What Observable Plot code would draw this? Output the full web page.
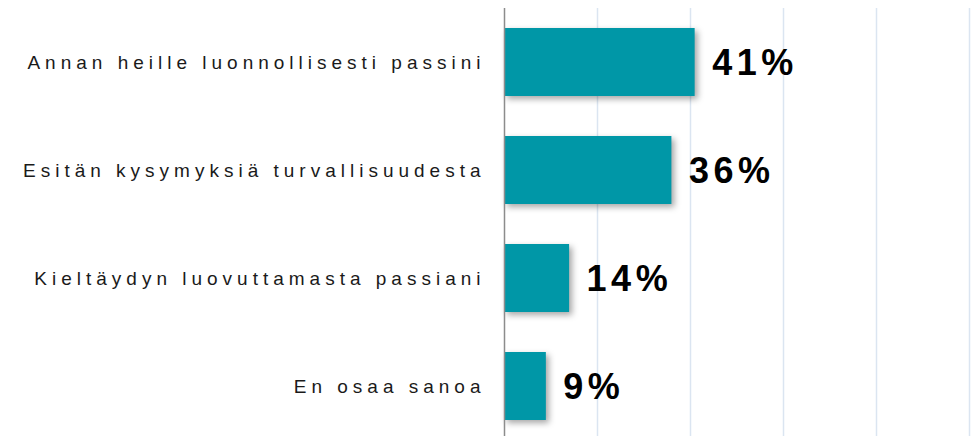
<!DOCTYPE html>
<html>
<head>
<meta charset="utf-8">
<script src="https://cdn.jsdelivr.net/npm/d3@7"></script>
<script src="https://cdn.jsdelivr.net/npm/@observablehq/plot@0.6"></script>
<style>
  html, body { margin: 0; padding: 0; background: #fff; }
  #chart svg { display: block; }
  #chart g[aria-label="y-axis tick label"] text { letter-spacing: 5px; }
  #chart g[aria-label="text"] text { letter-spacing: 4.5px; }
  #chart g[aria-label="bar"] { filter: drop-shadow(3px 3px 3px rgba(0,0,0,0.35)); }
</style>
</head>
<body>
<div id="chart"></div>
<script>
const categories = [
  "Annan heille luonnollisesti passini",
  "Esitän kysymyksiä turvallisuudesta",
  "Kieltäydyn luovuttamasta passiani",
  "En osaa sanoa"
];
const values = [41, 36, 14, 9];
const gridTicks = [20, 40, 60, 80, 100];

const data = categories.map((c, i) => ({category: c, value: values[i]}));

const chart = Plot.plot({
  width: 971,
  height: 436,
  marginLeft: 504,
  marginRight: 2,
  marginTop: 8,
  marginBottom: 0,
  style: {fontFamily: "'Liberation Sans', Arial, sans-serif", background: "#fff", color: "#000"},
  x: {domain: [0, 100], axis: null},
  y: {domain: categories, range: [8, 440], paddingInner: 0.37, paddingOuter: 0.185, label: null},
  marks: [
    Plot.ruleX(gridTicks, {stroke: "#dbe5f1", strokeWidth: 1.5, strokeOpacity: 1}),
    Plot.axisY({tickSize: 0, tickPadding: 19, fontSize: 19, fill: "#1a1a1a", label: null}),
    Plot.barX(data, {x: "value", y: "category", fill: "#0097a7"}),
    Plot.ruleX([0], {stroke: "#8c8c8c", strokeWidth: 1.5}),
    Plot.text(data, {x: "value", y: "category", text: d => d.value + "%", textAnchor: "start", dx: 17, dy: 1, fontSize: 36, fontWeight: "bold", fill: "#000"})
  ]
});
document.getElementById("chart").appendChild(chart);
</script>
</body>
</html>
